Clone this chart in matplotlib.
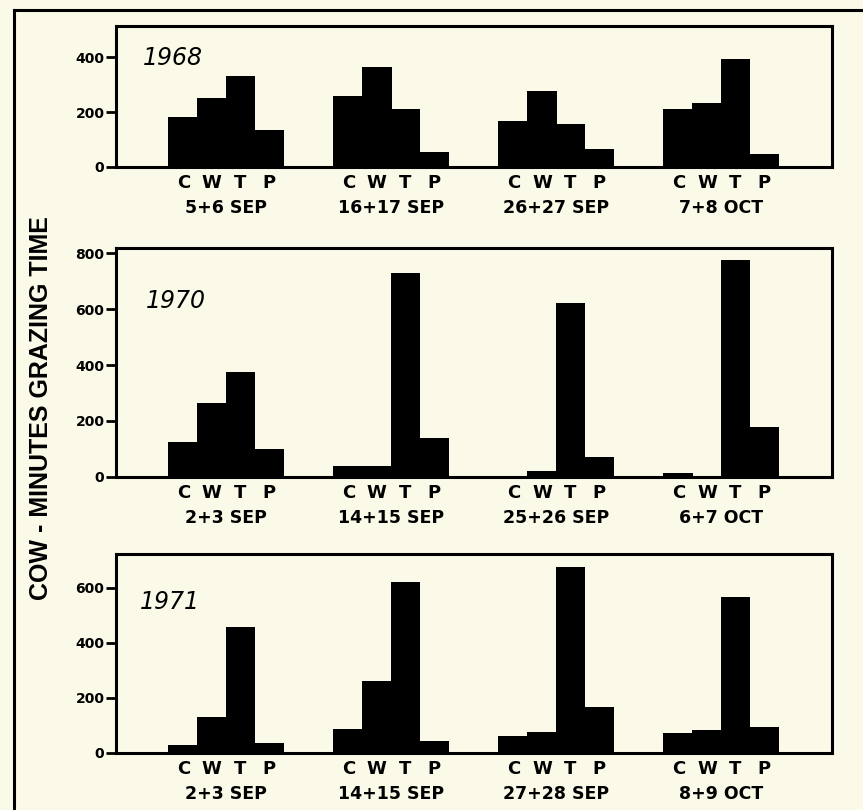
import matplotlib
matplotlib.use("Agg")
import matplotlib.pyplot as plt
from matplotlib.lines import Line2D
import numpy as np

# ---- data ----
years = ["1968", "1970", "1971"]
treatments = ["C", "W", "T", "P"]
dates_1968 = ["5+6 SEP", "16+17 SEP", "26+27 SEP", "7+8 OCT"]
dates_1970 = ["2+3 SEP", "14+15 SEP", "25+26 SEP", "6+7 OCT"]
dates_1971 = ["2+3 SEP", "14+15 SEP", "27+28 SEP", "8+9 OCT"]

# values per treatment (C, W, T, P) for each of the four dates
c_1968 = [182, 258, 166, 212]
w_1968 = [252, 365, 277, 234]
t_1968 = [332, 213, 156, 393]
p_1968 = [133, 52, 65, 48]

c_1970 = [125, 40, 2, 12]
w_1970 = [263, 40, 20, 2]
t_1970 = [376, 728, 623, 775]
p_1970 = [99, 138, 71, 179]

c_1971 = [28, 87, 61, 70]
w_1971 = [131, 262, 76, 82]
t_1971 = [456, 619, 673, 565]
p_1971 = [34, 41, 166, 95]

yticks_1968 = [0, 200, 400]
yticks_1970 = [0, 200, 400, 600, 800]
yticks_1971 = [0, 200, 400, 600]

ylabel = "COW - MINUTES GRAZING TIME"

# ---- style ----
BG = "#fbfae8"
W_PX, H_PX = 863, 810
fig = plt.figure(figsize=(W_PX / 100, H_PX / 100), dpi=100, facecolor=BG)

hand = "DejaVu Sans"

panels = [
    dict(year="1968", vals=[c_1968, w_1968, t_1968, p_1968], dates=dates_1968,
         yticks=yticks_1968, top=26, bottom=166.7, ymax=515, yearpos=(0.038, 0.77)),
    dict(year="1970", vals=[c_1970, w_1970, t_1970, p_1970], dates=dates_1970,
         yticks=yticks_1970, top=248.3, bottom=476.7, ymax=818, yearpos=(0.043, 0.77)),
    dict(year="1971", vals=[c_1971, w_1971, t_1971, p_1971], dates=dates_1971,
         yticks=yticks_1971, top=554, bottom=752.7, ymax=722, yearpos=(0.034, 0.76)),
]

left_px, right_px = 115.5, 832
bar_w_px = 28.6
xmax = (right_px - left_px) / bar_w_px
group_start = 1.87
group_step = 5.77

for p in panels:
    ax = fig.add_axes([left_px / W_PX, 1 - p["bottom"] / H_PX,
                       (right_px - left_px) / W_PX, (p["bottom"] - p["top"]) / H_PX])
    ax.set_facecolor(BG)
    vals = np.array(p["vals"])  # shape (4 treatments, 4 dates)
    xt, xl = [], []
    for g in range(vals.shape[1]):
        xs = group_start + group_step * g + np.arange(4) + 0.5
        ax.bar(xs, vals[:, g], width=1.04, color="black", linewidth=0)
        xt.extend(xs)
        xl.extend(treatments)
        ax.annotate(p["dates"][g], xy=(xs.mean(), 0), xycoords=("data", "axes fraction"),
                    xytext=(0, -29.5), textcoords="offset points", ha="center", va="center",
                    fontsize=12.5, fontweight="bold", family=hand)
    ax.set_xlim(0, xmax)
    ax.set_ylim(0, p["ymax"])
    ax.set_xticks(xt)
    ax.set_xticklabels(xl, fontsize=13, fontweight="bold", family=hand)
    ax.tick_params(axis="x", length=0, pad=5)
    ax.set_yticks(p["yticks"])
    ax.set_yticklabels([str(v) for v in p["yticks"]], fontsize=10, fontweight="bold", family=hand)
    ax.tick_params(axis="y", direction="out", length=7, width=2, pad=1)
    for s in ax.spines.values():
        s.set_linewidth(2.2)
    ax.text(p["yearpos"][0], p["yearpos"][1], p["year"], transform=ax.transAxes,
            fontsize=17, style="italic", family=hand, ha="left", va="center")

# y label
fig.text(41 / W_PX, 1 - 408 / H_PX, ylabel, rotation=90, ha="center", va="center",
         fontsize=18, fontweight="bold", family="Liberation Sans")

# outer frame lines (top and left)
fx = 14 / W_PX
fy = 1 - 10 / H_PX
fig.add_artist(Line2D([fx, 1], [fy, fy], transform=fig.transFigure, color="black", linewidth=2.2))
fig.add_artist(Line2D([fx, fx], [0, fy], transform=fig.transFigure, color="black", linewidth=2.2))

fig.savefig("out.png", dpi=100, facecolor=BG)
